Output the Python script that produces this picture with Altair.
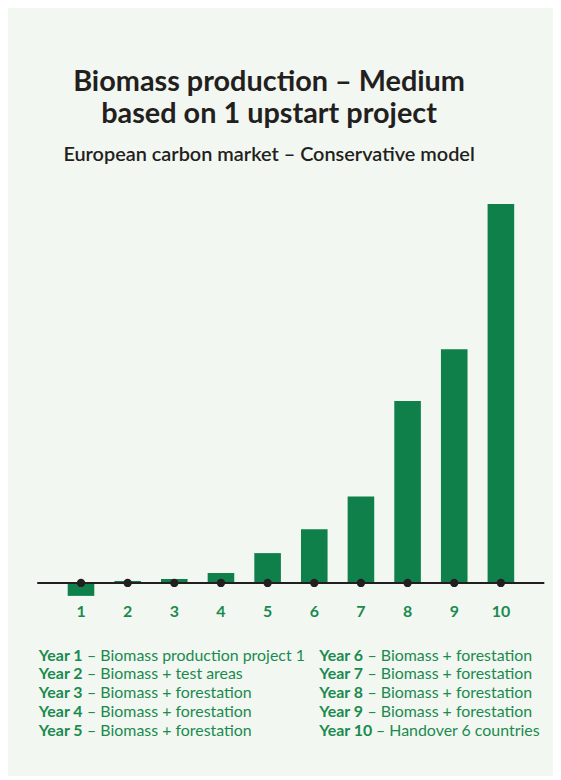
import altair as alt
import pandas as pd

years = ["1", "2", "3", "4", "5", "6", "7", "8", "9", "10"]
values = [-13, 2, 4, 10, 30, 54, 87, 183, 235, 381]

legend_labels = ["Year 1", "Year 2", "Year 3", "Year 4", "Year 5",
                 "Year 6", "Year 7", "Year 8", "Year 9", "Year 10"]
legend_desc = ["Biomass production project 1", "Biomass + test areas",
               "Biomass + forestation", "Biomass + forestation",
               "Biomass + forestation", "Biomass + forestation",
               "Biomass + forestation", "Biomass + forestation",
               "Biomass + forestation", "Handover 6 countries"]

FONT = "Lato"
BAR = "#10804a"
GREEN = "#1a8a4f"
DARK = "#231f20"
BG = "#f2f7f1"

df = pd.DataFrame({"year": years, "value": values})

x = alt.X("year:N", sort=years,
          scale=alt.Scale(paddingInner=0.43, paddingOuter=0.64),
          axis=alt.Axis(title=None, labelAngle=0, domain=False, ticks=False,
                        grid=False, labelColor=GREEN, labelFont=FONT,
                        labelFontSize=16, labelFontWeight="bold",
                        labelPadding=6))
y = alt.Y("value:Q", scale=alt.Scale(domain=[-15, 385], nice=False),
          axis=None)

bars = alt.Chart(df).mark_bar(color=BAR).encode(x=x, y=y)
rule = alt.Chart(df).mark_rule(color=DARK, strokeWidth=1.6).encode(y=alt.datum(0))
dots = alt.Chart(df).mark_circle(color=DARK, size=70, opacity=1).encode(
    x=x, y=alt.datum(0))

main = alt.layer(bars, rule, dots).properties(width=509, height=400)

ldf = pd.DataFrame({
    "label": legend_labels,
    "desc": ["– " + d for d in legend_desc],
    "col": [0] * 5 + [1] * 5,
    "row": list(range(5)) * 2,
})

lx = alt.X("col:Q", scale=alt.Scale(domain=[0, 1], range=[1, 283]), axis=None)
ly = alt.Y("row:Q", scale=alt.Scale(domain=[0, 4], range=[0, 76]), axis=None)

FS = 16
lbase = alt.Chart(ldf)
lab = lbase.mark_text(align="left", baseline="middle", font=FONT,
                      fontSize=FS, fontWeight="bold", color=GREEN).encode(
    x=lx, y=ly, text="label:N")
desc1 = lbase.transform_filter("datum.label != 'Year 10'").mark_text(
    align="left", baseline="middle", font=FONT, fontSize=FS,
    color=GREEN, dx=48.5).encode(x=lx, y=ly, text="desc:N")
desc2 = lbase.transform_filter("datum.label == 'Year 10'").mark_text(
    align="left", baseline="middle", font=FONT, fontSize=FS,
    color=GREEN, dx=57).encode(x=lx, y=ly, text="desc:N")

legend = alt.layer(lab, desc1, desc2).properties(width=509, height=76)

chart = alt.vconcat(main, legend, spacing=28).properties(
    title=alt.TitleParams(
        text=["Biomass production – Medium", "based on 1 upstart project"],
        subtitle="European carbon market – Conservative model",
        font=FONT, fontSize=29, fontWeight="bold", color=DARK,
        lineHeight=33, subtitleFont=FONT, subtitleFontSize=20,
        subtitleFontWeight=600, subtitleColor=DARK, subtitlePadding=16,
        anchor="middle", dx=-22, offset=35),
    padding={"left": 29, "right": 8, "top": 58, "bottom": 35},
    background=BG,
).configure_view(stroke=None)

chart.save("out.html", embed_options={"renderer": "svg", "actions": False})
